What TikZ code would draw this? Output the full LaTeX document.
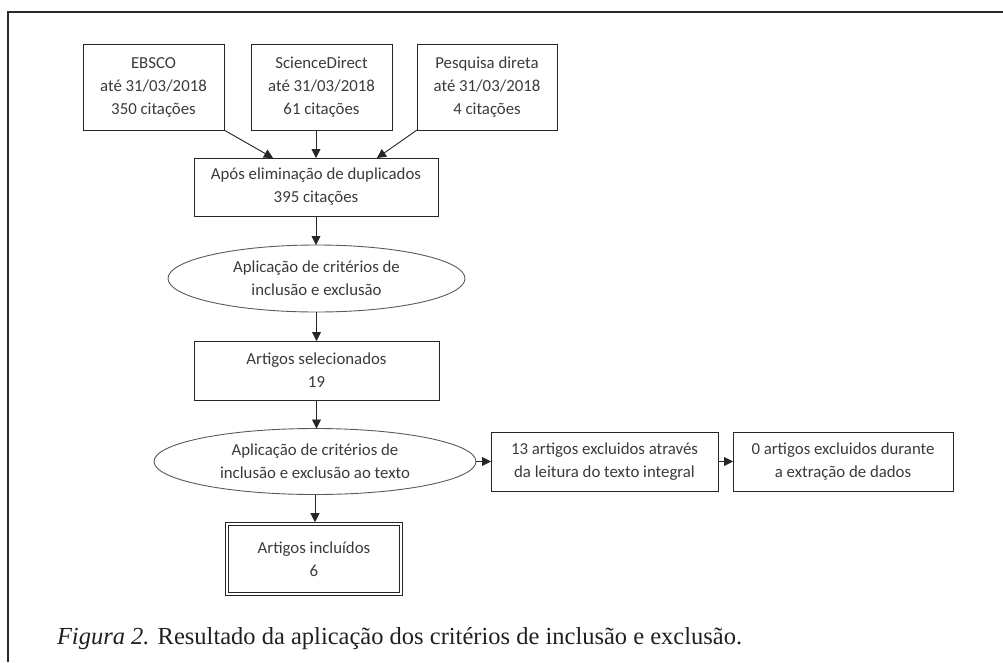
\documentclass[tikz,border=0pt]{standalone}
\usepackage{fontspec}
\newfontfamily\boxfont{Carlito}
\newfontfamily\capfont{Liberation Serif}
\usetikzlibrary{arrows.meta,shapes.geometric,calc}
\definecolor{linec}{HTML}{262626}
\definecolor{ellc}{HTML}{5A5A5A}
\definecolor{txtc}{HTML}{3A3A3A}
\definecolor{capc}{HTML}{231F20}
\definecolor{framec}{HTML}{2A2A2A}
\begin{document}
\begin{tikzpicture}[x=1pt,y=-1pt,
  every node/.style={inner sep=0pt, outer sep=0pt},
  box/.style={draw=linec, line width=0.9pt, rectangle, align=center,
    font=\boxfont\fontsize{16.8}{23}\selectfont, text=txtc},
  ell/.style={draw=ellc, line width=0.9pt, ellipse, align=center,
    font=\boxfont\fontsize{16.8}{23}\selectfont, text=txtc},
  arr/.style={draw=linec, line width=0.9pt, -{Triangle[length=9pt,width=9pt]}},
]
\useasboundingbox (0,0) rectangle (1003,662);
\draw[framec, line width=1.8pt] (8,662) -- (8,12) -- (1003,12);

\node[box, minimum width=141pt, minimum height=86pt] (ebsco) at (153.5,87) {EBSCO\\até 31/03/2018\\350 citações};
\node[box, minimum width=141pt, minimum height=86pt] (sd) at (321.5,87) {ScienceDirect\\até 31/03/2018\\61 citações};
\node[box, minimum width=140pt, minimum height=86pt] (pd) at (487,87) {Pesquisa direta\\até 31/03/2018\\4 citações};
\node[box, minimum width=244pt, minimum height=58pt] (apos) at (316,187) {Após eliminação de duplicados\\395 citações};
\node[ell, minimum width=297pt, minimum height=67pt] (e1) at (316.5,278.5) {Aplicação de critérios de\\inclusão e exclusão};
\node[box, minimum width=245pt, minimum height=59pt] (sel) at (316.5,370.5) {Artigos selecionados\\19};
\node[ell, minimum width=322pt, minimum height=66pt] (e2) at (315,461.5) {Aplicação de critérios de\\inclusão e exclusão ao texto};
\node[box, minimum width=227pt, minimum height=59pt] (x13) at (604.5,461.5) {13 artigos excluidos através\\da leitura do texto integral};
\node[box, minimum width=220pt, minimum height=59pt] (x0) at (843,461.5) {0 artigos excluidos durante\\a extração de dados};
\node[box, double=white, double distance=2pt, line width=0.8pt, outer sep=1.8pt,
  minimum width=174pt, minimum height=70pt] (inc) at (314,559) {Artigos incluídos\\6};

\draw[arr] (ebsco.south east) -- ($(apos.north)+(-43,0)$);
\draw[arr] (apos.north |- sd.south) -- (apos.north);
\draw[arr] (pd.south west) -- ($(apos.north)+(61,0)$);
\draw[arr] (apos.south) -- (apos.south |- e1.north);
\draw[arr] (e1.south) -- (e1.south |- sel.north);
\draw[arr] (sel.south) -- (sel.south |- e2.north);
\draw[arr] (e2.south) -- (e2.south |- inc.north);
\draw[arr] (e2.east) -- (x13.west);
\draw[arr] (x13.east) -- (x0.west);

\node[anchor=base west, font=\capfont\fontsize{24.5}{29}\selectfont, text=capc] (cap) at (57,644)
  {\textit{Figura 2.} Resultado da aplicação dos critérios de inclusão e exclusão.};
\end{tikzpicture}
\end{document}
